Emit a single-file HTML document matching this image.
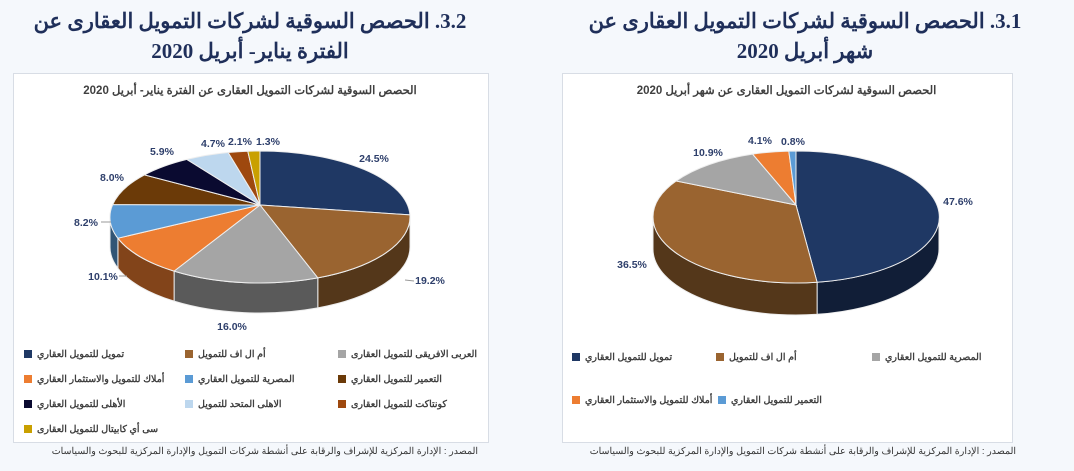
<!DOCTYPE html>
<html><head><meta charset="utf-8"><style>
body{margin:0;width:1074px;height:471px;background:#f5f8fc;position:relative;overflow:hidden;font-family:"Liberation Sans","Noto Sans CJK SC",sans-serif}
.t{position:absolute;direction:rtl;text-align:center;color:#1f2f5a;font-weight:bold;font-family:"Liberation Serif","Noto Serif CJK SC",serif;font-size:21px;white-space:nowrap}
.panel{position:absolute;background:#fff;border:1px solid #d8dde5;top:73px;height:368px}
.ct{position:absolute;direction:rtl;font-size:11.5px;font-weight:bold;color:#404040;white-space:nowrap;text-align:center}
.lg{position:absolute;font-size:9.5px;font-weight:bold;color:#404040;white-space:nowrap;direction:ltr}
.lg i{display:inline-block;width:8px;height:8px;margin-right:5px;vertical-align:-1px}
.src{position:absolute;font-size:9.5px;color:#333;direction:rtl;white-space:nowrap}
</style></head><body>
<div class="t" style="left:10px;width:480px;top:9px">3.2. الحصص السوقية لشركات التمويل العقارى عن</div>
<div class="t" style="left:10px;width:480px;top:39px">الفترة يناير- أبريل 2020</div>
<div class="t" style="left:565px;width:480px;top:9px">3.1. الحصص السوقية لشركات التمويل العقارى عن</div>
<div class="t" style="left:565px;width:480px;top:39px">شهر أبريل 2020</div>
<div class="panel" style="left:13px;width:474px"></div>
<div class="panel" style="left:562px;width:449px"></div>
<div class="ct" style="left:13px;width:474px;top:83px">الحصص السوقية لشركات التمويل العقارى عن الفترة يناير- أبريل 2020</div>
<div class="ct" style="left:562px;width:449px;top:83px">الحصص السوقية لشركات التمويل العقارى عن شهر أبريل 2020</div>
<svg id="s" width="1074" height="471" style="position:absolute;left:0;top:0"></svg>
<div class="lg" style="left:24px;top:349px"><i style="background:#1f3864"></i>تمويل للتمويل العقاري</div>
<div class="lg" style="left:185px;top:349px"><i style="background:#9a6430"></i>أم ال اف للتمويل</div>
<div class="lg" style="left:338px;top:349px"><i style="background:#a5a5a5"></i>العربى الافريقى للتمويل العقارى</div>
<div class="lg" style="left:24px;top:374px"><i style="background:#ed7d31"></i>أملاك للتمويل والاستثمار العقاري</div>
<div class="lg" style="left:185px;top:374px"><i style="background:#5b9bd5"></i>المصرية للتمويل العقاري</div>
<div class="lg" style="left:338px;top:374px"><i style="background:#6b3a08"></i>التعمير للتمويل العقاري</div>
<div class="lg" style="left:24px;top:399px"><i style="background:#0a0a30"></i>الأهلى للتمويل العقاري</div>
<div class="lg" style="left:185px;top:399px"><i style="background:#bdd7ee"></i>الاهلى المتحد للتمويل</div>
<div class="lg" style="left:338px;top:399px"><i style="background:#9e480e"></i>كونتاكت للتمويل العقارى</div>
<div class="lg" style="left:24px;top:424px"><i style="background:#c9a000"></i>سى أي كابيتال للتمويل العقارى</div>
<div class="lg" style="left:572px;top:352px"><i style="background:#1f3864"></i>تمويل للتمويل العقاري</div>
<div class="lg" style="left:716px;top:352px"><i style="background:#9a6430"></i>أم ال اف للتمويل</div>
<div class="lg" style="left:872px;top:352px"><i style="background:#a5a5a5"></i>المصرية للتمويل العقاري</div>
<div class="lg" style="left:572px;top:395px"><i style="background:#ed7d31"></i>أملاك للتمويل والاستثمار العقاري</div>
<div class="lg" style="left:718px;top:395px"><i style="background:#5b9bd5"></i>التعمير للتمويل العقاري</div>
<div class="src" style="right:596px;top:446px">المصدر : الإدارة المركزية للإشراف والرقابة على أنشطة شركات التمويل والإدارة المركزية للبحوث والسياسات</div>
<div class="src" style="right:58px;top:446px">المصدر : الإدارة المركزية للإشراف والرقابة على أنشطة شركات التمويل والإدارة المركزية للبحوث والسياسات</div>
<script>
var s=document.getElementById('s'),h='';
function shade(c,f){var n=parseInt(c.slice(1),16);var r=(n>>16)*f|0,g=((n>>8)&255)*f|0,b=(n&255)*f|0;return 'rgb('+r+','+g+','+b+')';}
function pt(cx,cy,rx,ry,a,dy){a=a*Math.PI/180;return [(cx+rx*Math.sin(a)).toFixed(1),(cy-ry*Math.cos(a)+(dy||0)).toFixed(1)];}
function pie(cx,cy,rx,ry,d,vals,cols){
 var tot=vals.reduce((a,b)=>a+b,0),a=0,ang=[],ay=cy-12;
 vals.forEach(v=>{ang.push([a,a+v/tot*360]);a+=v/tot*360;});
 ang.forEach((g,i)=>{var a0=Math.max(g[0],90),a1=Math.min(g[1],270);if(a1<=a0)return;
  var p0=pt(cx,cy,rx,ry,a0),p1=pt(cx,cy,rx,ry,a1),q1=pt(cx,cy,rx,ry,a1,d),q0=pt(cx,cy,rx,ry,a0,d);
  h+='<path d="M'+p0+' A'+rx+' '+ry+' 0 0 1 '+p1+' L'+q1+' A'+rx+' '+ry+' 0 0 0 '+q0+' Z" fill="'+shade(cols[i],0.55)+'" stroke="#eee" stroke-width="1"/>';});
 ang.forEach((g,i)=>{var p0=pt(cx,cy,rx,ry,g[0]),p1=pt(cx,cy,rx,ry,g[1]),lg=(g[1]-g[0])>180?1:0;
  h+='<path d="M'+cx+' '+ay+' L'+p0+' A'+rx+' '+ry+' 0 '+lg+' 1 '+p1+' Z" fill="'+cols[i]+'" stroke="#eee" stroke-width="1"/>';});
}
pie(260,217,150,66,30,[24.5,19.2,16.0,10.1,8.2,8.0,5.9,4.7,2.1,1.3],['#1f3864','#9a6430','#a5a5a5','#ed7d31','#5b9bd5','#6b3a08','#0a0a30','#bdd7ee','#9e480e','#c9a000']);
pie(796,217,143,66,32,[47.6,36.5,10.9,4.1,0.8],['#1f3864','#9a6430','#a5a5a5','#ed7d31','#5b9bd5']);
var L=[[374,162,'24.5%'],[430,284,'19.2%'],[232,330,'16.0%'],[103,280,'10.1%'],[86,226,'8.2%'],[112,181,'8.0%'],[162,155,'5.9%'],[213,147,'4.7%'],[240,145,'2.1%'],[268,145,'1.3%'],
[958,205,'47.6%'],[632,268,'36.5%'],[708,156,'10.9%'],[760,144,'4.1%'],[793,145,'0.8%']];
L.forEach(l=>{h+='<text x="'+l[0]+'" y="'+l[1]+'" text-anchor="middle" font-family="Liberation Sans" font-weight="bold" font-size="10.5" fill="#2e3f6b">'+l[2]+'</text>';});
h+='<polyline points="405,280 414,281" stroke="#999" fill="none"/><polyline points="119,276 127,276" stroke="#999" fill="none"/><polyline points="101,222 111,222" stroke="#999" fill="none"/>';
s.innerHTML=h;
</script>
</body></html>
